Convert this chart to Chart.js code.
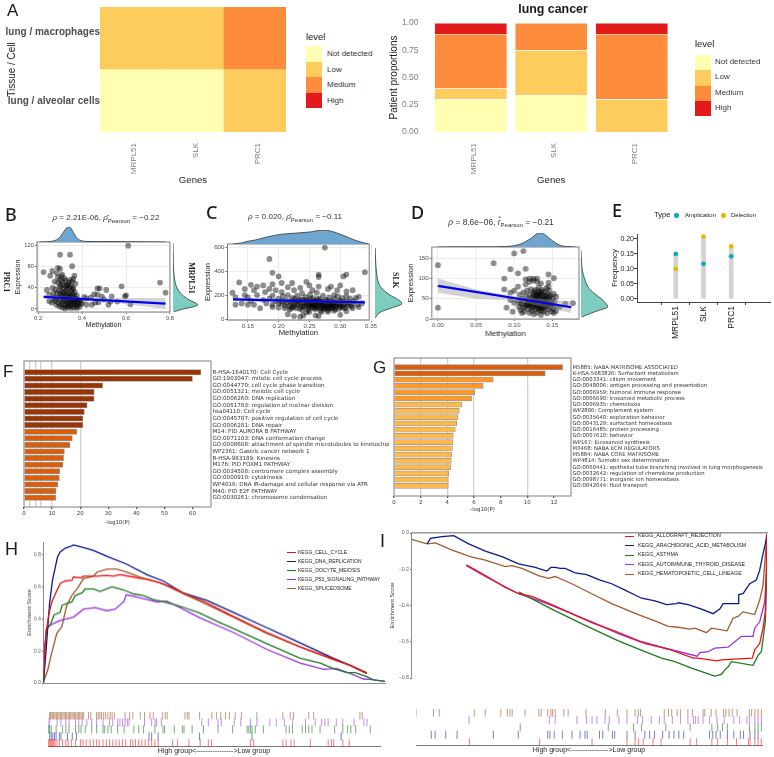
<!DOCTYPE html>
<html>
<head>
<meta charset="utf-8">
<script src="https://cdn.jsdelivr.net/npm/chart.js@4"></script>
<style>
html, body { margin: 0; background: #fff; }
#page { position: relative; width: 774px; height: 757px; overflow: hidden; }
#page canvas { position: absolute; }
.t { position: absolute; white-space: nowrap; line-height: 1; font-family: 'Liberation Sans', sans-serif; }
.sw { position: absolute; }
</style>
</head>
<body>
<div id="page"></div>
<script>
// ---- panel A ----
const genes = ['MRPL51', 'SLK', 'PRC1'];
const levels = ['Not detected', 'Low', 'Medium', 'High'];
const levelColors = ['#FFFFB2', '#FECC5C', '#FD8D3C', '#E31A1C'];
const tissueLabels = ['lung / alveolar cells', 'lung / macrophages'];
const alveolarLevel = [0, 0, 1];
const macrophageLevel = [1, 1, 2];
const notDetected = [0.30, 0.335, 0];
const lowShare = [0.10, 0.415, 0.30];
const mediumShare = [0.50, 0.25, 0.60];
const highShare = [0.10, 0, 0.10];

// ---- panels B, C, D: [methylation, expression] ----
const prc1Points = [[.61,120],[.30,103],[.345,103],[.225,70],[.255,63],[.265,72],[.285,68],[.29,78],[.30,76],[.31,65],[.305,62],[.355,81],[.365,63],[.36,57],[.34,50],[.355,52],[.37,48],[.33,45],[.755,50],[.78,31],[.58,43],[.48,39],[.47,39],[.51,36],[.455,28],[.47,27],[.49,24],[.6,26],[.595,24],[.535,24],[.62,9],[.44,22],[.42,20],[.41,23],[.40,12],[.42,8],[.445,8],[.46,12],[.475,13],[.5,18],[.53,14],[.56,14],[.52,8],[.24,36],[.265,40],[.25,27],[.27,30],[.28,38],[.275,52],[.29,50],[.30,45],
  [.285,30],[.29,22],[.292,12],[.295,35],[.297,5],[.30,28],[.30,17],[.302,42],[.305,8],[.305,24],[.308,33],[.31,14],[.31,3],[.312,46],[.313,27],[.315,20],[.316,38],[.318,9],[.32,31],[.32,16],[.322,1],[.323,24],[.325,43],[.326,6],[.328,35],[.33,13],[.33,27],[.332,19],[.334,3],[.335,38],[.336,9],[.338,23],[.34,30],[.34,15],[.342,5],[.344,41],[.345,26],[.346,11],[.348,19],[.35,34],[.35,2],[.352,7],[.354,23],[.355,14],[.356,29],[.358,37],[.36,10],[.36,18],[.362,3],[.364,25],[.365,13],[.367,32],[.37,7],[.37,20],[.372,15],[.375,2],[.376,26],[.378,11],[.38,6],[.382,18],[.385,12],[.388,4],[.39,16],[.395,9],[.28,18],[.283,8],[.275,15],[.27,22],[.262,12],[.25,15],[.31,52],[.32,58],[.325,54],[.335,46],[.345,55],[.35,44],[.36,40],[.30,55],[.29,60]];
const prc1Fit = [[.225,23],[.78,10]];
const prc1BandHigh = [[.225,27],[.35,23],[.5,21],[.78,21]];
const prc1BandLow = [[.225,19],[.35,18],[.5,14],[.78,0]];
const prc1MethDensity = [[.21,0],[.26,.04],[.29,.2],[.31,.55],[.33,.95],[.34,1],[.35,.9],[.37,.4],[.39,.12],[.42,.04],[.5,.03],[.6,.02],[.78,0]];
const prc1ExprDensity = [[125,0],[100,.01],[80,.02],[60,.05],[50,.09],[40,.16],[30,.3],[20,.55],[15,.75],[10,.95],[8,1],[4,.8],[0,.4],[-5,.05]];

const mrpl51Points = [[.275,595],[.185,500],[.19,385],[.2,355],[.265,370],[.265,350],[.305,355],[.31,370],[.34,390],[.136,305],[.125,220],[.13,120],[.15,120],[.155,150],[.145,250],[.155,285],[.145,200],[.165,270],[.175,280],[.19,290],[.205,300],[.222,300],[.13,180],[.14,130],[.15,180],[.16,240],[.16,120],[.165,200],[.17,90],[.175,160],[.178,225],[.18,130],[.185,250],[.19,195],[.19,100],[.195,240],[.205,225],[.215,265],[.22,90],[.225,240],[.235,260],[.215,40],[.225,25],[.235,20],[.25,60],[.26,30],[.265,25],[.30,35],[.27,60],[.28,60],[.245,310],[.25,280],[.255,240],[.265,270],[.28,250],[.285,270],[.295,240],[.30,280],[.31,230],[.32,240],[.325,175],[.33,185],[.32,90],[.33,100],[.335,130],[.31,190],[.29,200],[.24,30],[.245,55],
  [.185,170],[.19,120],[.195,150],[.2,95],[.2,170],[.205,130],[.207,190],[.21,110],[.212,155],[.215,200],[.218,80],[.22,130],[.222,175],[.225,105],[.227,150],[.23,195],[.232,120],[.234,85],[.236,165],[.238,215],[.24,100],[.242,140],[.244,185],[.246,120],[.248,75],[.25,155],[.251,205],[.253,100],[.255,135],[.256,175],[.258,85],[.26,120],[.261,150],[.262,220],[.264,95],[.265,130],[.266,170],[.268,70],[.27,110],[.27,145],[.272,195],[.274,90],[.275,125],[.276,160],[.278,100],[.28,75],[.28,140],[.282,180],[.284,110],[.285,90],[.286,150],[.288,125],[.29,70],[.29,165],[.292,100],[.294,135],[.296,190],[.298,85],[.30,115],[.30,150],[.303,175],[.305,95],[.307,130],[.31,65],[.31,145],[.313,110],[.316,170],[.32,125],[.225,125],[.235,140],[.245,160],[.255,115],[.262,105],[.268,135],[.275,105],[.283,125],[.292,120],[.24,120],[.25,130],[.258,150],[.27,90],[.287,105],
  [.2,130],[.205,150],[.21,90],[.213,135],[.217,110],[.22,150],[.223,100],[.226,170],[.228,90],[.23,130],[.233,155],[.236,105],[.238,75],[.24,160],[.243,105],[.246,140],[.248,95],[.25,110],[.252,170],[.254,125],[.256,95],[.258,115],[.26,140],[.261,85],[.263,165],[.265,110],[.267,150],[.27,125],[.272,100],[.273,140],[.275,85],[.277,120],[.279,155],[.28,105],[.282,90],[.284,135],[.286,120],[.288,95],[.29,140],[.292,80],[.294,110],[.296,125],[.298,150],[.30,100],[.302,130],[.304,110],[.306,150],[.308,90],[.312,125],[.315,140],[.318,105],[.322,150],[.328,120]];
const mrpl51Fit = [[.126,163],[.34,138]];
const mrpl51BandHigh = [[.126,180],[.23,158],[.34,158]];
const mrpl51BandLow = [[.126,146],[.23,142],[.34,118]];
const mrpl51MethDensity = [[.126,0],[.14,.08],[.15,.2],[.16,.27],[.18,.5],[.20,.68],[.22,.76],[.25,.87],[.265,1],[.28,.93],[.30,.62],[.32,.25],[.34,0]];
const mrpl51ExprDensity = [[590,.01],[500,.02],[400,.05],[300,.13],[250,.28],[200,.55],[170,.8],[140,.98],[127,1],[110,.85],[80,.45],[50,.15],[10,.01]];

const slkPoints = [[0,133],[0,28],[.073,138],[.10,162],[.112,168],[.095,123],[.115,124],[.105,113],[.145,110],[.152,101],[.087,100],[.12,100],[.125,100],[.13,100],[.135,88],[.115,98],[.145,90],[.145,80],[.105,80],[.115,85],[.087,73],[.095,65],[.10,70],[.09,28],[.098,18],[.108,38],[.11,15],[.167,38],[.177,39],[.152,15],[.095,47],[.10,40],[.125,95],[.12,92],[.13,92],[.155,55],[.16,30],
  [.105,45],[.106,30],[.107,60],[.108,22],[.11,50],[.11,38],[.112,66],[.112,28],[.113,18],[.114,44],[.115,56],[.116,35],[.117,70],[.118,25],[.118,48],[.12,15],[.12,60],[.12,38],[.121,30],[.122,52],[.122,74],[.123,20],[.124,42],[.125,64],[.125,33],[.126,12],[.126,50],[.127,24],[.128,72],[.128,40],[.129,58],[.13,30],[.13,47],[.13,16],[.131,66],[.132,36],[.132,78],[.133,52],[.133,22],[.134,43],[.135,10],[.135,62],[.135,32],[.136,72],[.136,50],[.137,26],[.138,40],[.138,58],[.139,18],[.14,68],[.14,34],[.14,48],[.141,28],[.142,56],[.142,76],[.143,14],[.143,42],[.144,62],[.145,35],[.145,24],[.145,50],[.146,70],[.147,44],[.148,30],[.148,58],[.149,18],[.15,38],[.15,50],[.151,26],[.152,62],[.153,42],[.154,32],[.155,20],[.125,56],[.128,48],[.131,26],[.134,58],[.137,36],[.139,46],[.141,40],[.127,38],[.133,68],[.13,55],[.124,28],[.136,20],[.143,32],[.146,56],[.12,44],[.117,40],[.114,30],
  [.122,36],[.126,44],[.129,34],[.132,46],[.135,40],[.138,30],[.141,50],[.144,38],[.134,28],[.128,60],[.14,58],[.132,60],[.126,68],[.137,66],[.118,34],[.147,36]];
const slkFit = [[0,82],[.175,29]];
const slkBandHigh = [[0,100],[.05,73],[.1,56],[.175,43]];
const slkBandLow = [[0,65],[.05,50],[.1,46],[.175,15]];
const slkMethDensity = [[0,0],[.05,.01],[.07,.01],[.09,.04],[.10,.1],[.11,.25],[.12,.55],[.125,.75],[.13,.95],[.135,1],[.14,.9],[.15,.45],[.16,.12],[.17,.03],[.18,0]];
const slkExprDensity = [[170,0],[140,.02],[120,.05],[100,.13],[80,.25],[70,.38],[60,.55],[50,.75],[40,.9],[30,1],[20,.6],[10,.2],[5,.05]];

// ---- panel E ----
const amplification = [0.15, 0.117, 0.142];
const deletion = [0.10, 0.208, 0.175];

// ---- panel F ----
const termsF = ['R-HSA-1640170: Cell Cycle','GO:1903047: mitotic cell cycle process','GO:0044770: cell cycle phase transition','GO:0051321: meiotic cell cycle','GO:0006260: DNA replication','GO:0051783: regulation of nuclear division','hsa04110: Cell cycle','GO:0045787: positive regulation of cell cycle','GO:0006281: DNA repair','M14: PID AURORA B PATHWAY','GO:0071103: DNA conformation change','GO:0008608: attachment of spindle microtubules to kinetochor','WP2361: Gastric cancer network 1','R-HSA-983189: Kinesins','M176: PID FOXM1 PATHWAY','GO:0034508: centromere complex assembly','GO:0000910: cytokinesis','WP4016: DNA IR-damage and cellular response via ATR','M40: PID E2F PATHWAY','GO:0030261: chromosome condensation'];
const valuesF = [63, 60, 28, 25, 25, 22.5, 21.5, 21, 21, 18.8, 17.2, 16.4, 14.4, 14.1, 13.9, 12.7, 12.6, 12, 11.4, 11.3];
const colorsF = ['#993404','#993404','#993404','#993404','#993404','#993404','#993404','#993404','#993404','#D95F0E','#D95F0E','#D95F0E','#D95F0E','#D95F0E','#D95F0E','#D95F0E','#D95F0E','#D95F0E','#D95F0E','#D95F0E'];
const ticksF = [0, 2, 4, 6, 10, 20, 30, 40, 50, 60];
const greyLinesF = [2, 4, 6, 10, 20];

// ---- panel G ----
const termsG = ['M5885: NABA MATRISOME ASSOCIATED','R-HSA-5683826: Surfactant metabolism','GO:0003341: cilium movement','GO:0048006: antigen processing and presentation','GO:0006959: humoral immune response','GO:0006690: icosanoid metabolic process','GO:0006935: chemotaxis','WP2806: Complement system','GO:0035640: exploration behavior','GO:0043129: surfactant homeostasis','GO:0016485: protein processing','GO:0007610: behavior','WP167: Eicosanoid synthesis','M3468: NABA ECM REGULATORS','M5884: NABA CORE MATRISOME','WP4814: Somatic sex determination','GO:0060441: epithelial tube branching involved in lung morphogenesis','GO:0032642: regulation of chemokine production','GO:0098771: inorganic ion homeostasis','GO:0042044: fluid transport'];
const valuesG = [12.65, 11.35, 7.45, 6.7, 6.05, 5.85, 5.1, 4.9, 4.8, 4.7, 4.6, 4.45, 4.42, 4.38, 4.33, 4.3, 4.27, 4.1, 4.08, 4.07];
const colorsG = ['#D95F0E','#D95F0E','#FE9929','#FE9929','#FE9929','#FE9929','#FEB94A','#FEB94A','#FEB94A','#FEB94A','#FEB94A','#FEB94A','#FEB94A','#FEB94A','#FEB94A','#FEB94A','#FEB94A','#FEB94A','#FEB94A','#FEB94A'];
const ticksG = [0, 2, 4, 6, 8, 10, 12];
const greyLinesG = [2, 4, 6, 10];

// ---- panel H: [rank, enrichment score] ----
const hNames = ['KEGG_CELL_CYCLE','KEGG_DNA_REPLICATION','KEGG_OOCYTE_MEIOSIS','KEGG_P53_SIGNALING_PATHWAY','KEGG_SPLICEOSOME'];
const keggColors = ['#F01010','#0A1A8C','#1E7A1E','#9B30E8','#A5582A'];
const hCellCycle = [[0,.025],[6,.275],[15,.42],[25,.505],[40,.575],[50,.62],[65,.635],[85,.64],[90,.66],[115,.655],[120,.665],[160,.665],[190,.67],[210,.665],[230,.675],[270,.66],[310,.645],[350,.625],[380,.6],[420,.56],[490,.5],[570,.415],[670,.315],[770,.225],[870,.15],[920,.11],[970,.06]];
const hDnaRep = [[0,.004],[8,.21],[18,.49],[27,.64],[42,.785],[50,.815],[65,.84],[80,.85],[90,.86],[120,.845],[150,.825],[190,.79],[250,.74],[310,.675],[360,.635],[420,.56],[490,.515],[570,.44],[670,.345],[770,.25],[870,.155],[920,.11],[970,.06]];
const hOocyte = [[0,.004],[8,.335],[20,.36],[32,.425],[50,.44],[56,.485],[85,.505],[95,.545],[115,.56],[125,.585],[150,.585],[170,.57],[205,.6],[240,.58],[270,.555],[300,.545],[330,.52],[360,.505],[390,.49],[415,.475],[470,.435],[520,.385],[570,.34],[670,.245],[770,.155],[830,.125],[870,.09],[910,.065],[935,.065],[970,.04],[990,.02],[1025,.01]];
const hP53 = [[0,.15],[10,.35],[35,.375],[50,.39],[90,.41],[120,.46],[155,.47],[190,.45],[215,.46],[242,.51],[248,.55],[290,.53],[340,.505],[370,.51],[410,.47],[470,.405],[570,.315],[670,.21],[770,.125],[840,.085],[880,.09],[920,.06],[960,.025],[980,.023],[1025,.01]];
const hSplice = [[0,.01],[12,.075],[25,.19],[40,.31],[55,.35],[70,.485],[85,.545],[102,.59],[120,.65],[150,.665],[160,.69],[190,.71],[220,.71],[250,.69],[290,.66],[330,.635],[360,.615],[420,.555],[490,.49],[570,.41],[670,.31],[770,.225],[870,.145],[920,.11],[970,.065]];
const hRugSplice = [5,8,12,15,18,22,26,30,34,38,42,46,50,54,58,62,66,70,74,78,82,86,90,94,98,102,106,110,125,132,150,155,160,165,172,178,185,192,198,205,238,252,262,285,298,315,325,353,362,368,423,430,435,468,506,520,533,548,560,578,597,645,725,748,758,805,820,963,970];
const hRugP53 = [0,5,28,40,55,65,85,95,105,120,135,150,170,190,200,215,222,230,238,245,250,298,320,330,335,350,475,495,525,535,575,595,625,645,685,705,730,755,795,825,845,855,865,890,910,945,975,985];
const hRugOocyte = [2,5,10,25,45,55,65,85,95,102,115,135,150,170,175,185,195,215,235,265,280,295,330,355,360,390,415,420,445,480,525,570,615,620,625,630,640,665,735,745,755,785,795,805,815,840,885,910,925,935,950,995];
const hRugDna = [5,10,15,20,25,35,40,60,75,88,312,320,340,468,630,905];
const hRugCell = [0,3,6,9,12,15,18,22,28,35,45,55,62,72,85,100,108,118,130,140,150,158,170,180,190,200,210,220,230,240,255,262,270,280,290,300,310,320,330,340,385,400,435,470,495,505,625,635,725,735,750,760,810,865,875,882,910,930];

// ---- panel I: [rank, enrichment score] ----
const iNames = ['KEGG_ALLOGRAFT_REJECTION','KEGG_ARACHIDONIC_ACID_METABOLISM','KEGG_ASTHMA','KEGG_AUTOIMMUNE_THYROID_DISEASE','KEGG_HEMATOPOIETIC_CELL_LINEAGE'];
const iAllograft = [[165,-.175],[222,-.235],[282,-.3],[322,-.335],[362,-.35],[422,-.395],[482,-.445],[542,-.495],[602,-.535],[692,-.6],[772,-.64],[847,-.69],[862,-.69],[917,-.705],[932,-.7],[1025,-.69],[1032,-.645],[1047,-.61],[1057,-.525],[1064,-.435],[1069,-.005]];
const iArachidonic = [[47,-.06],[57,-.03],[92,-.02],[127,-.015],[172,-.06],[222,-.1],[272,-.13],[322,-.17],[372,-.19],[407,-.21],[419,-.19],[432,-.19],[447,-.195],[462,-.195],[492,-.22],[527,-.23],[567,-.26],[602,-.28],[642,-.315],[692,-.36],[732,-.375],[767,-.395],[797,-.39],[802,-.385],[832,-.395],[872,-.42],[907,-.445],[927,-.42],[937,-.39],[982,-.39],[984,-.34],[997,-.335],[1017,-.28],[1037,-.26],[1047,-.205],[1057,-.115],[1064,-.06],[1069,-.005]];
const iAsthma = [[322,-.325],[422,-.42],[522,-.51],[622,-.595],[702,-.655],[752,-.69],[792,-.71],[842,-.745],[912,-.79],[932,-.78],[942,-.755],[952,-.74],[962,-.71],[1027,-.73],[1042,-.675],[1052,-.655],[1064,-.49],[1069,-.18]];
const iAutoimmune = [[165,-.18],[222,-.24],[322,-.335],[402,-.385],[482,-.445],[542,-.49],[622,-.555],[702,-.61],[772,-.64],[859,-.68],[867,-.66],[892,-.655],[912,-.635],[952,-.63],[972,-.6],[992,-.57],[1027,-.57],[1032,-.525],[1047,-.49],[1062,-.38],[1069,-.18]];
const iHematopoietic = [[0,-.035],[47,-.06],[72,-.055],[122,-.095],[177,-.13],[222,-.15],[282,-.185],[302,-.18],[332,-.195],[382,-.235],[412,-.25],[432,-.24],[482,-.28],[542,-.335],[602,-.39],[682,-.45],[732,-.485],[772,-.515],[802,-.52],[837,-.53],[852,-.525],[887,-.55],[902,-.525],[949,-.54],[967,-.47],[982,-.46],[997,-.435],[1032,-.45],[1047,-.37],[1057,-.29],[1069,-.005]];
const iRugHema = [0,54,72,180,214,262,282,290,297,337,380,387,407,417,422,430,457,470,525,585,622,652,677,687,694,767,780,790,807,817,840,854,887,892,912,927,950,957,967,977,992,1030,1037,1047,1057,1067];
const iRugAuto = [164,412,430,497,527,544,559,584,597,627,652,684,700,727,752,767,792,817,840,857,864,872,887,907,930,952,982,1000,1022,1030,1047,1057,1067];
const iRugAsthma = [322,594,672,697,772,847,914,932,947,962,1030,1047,1057,1067];
const iRugArach = [47,59,92,127,239,316,407,414,427,452,482,507,522,529,567,577,607,614,652,677,707,722,737,762,782,797,812,827,907,917,927,940,962,982,1002,1012,1032,1047,1057];
const iRugAllo = [165,382,544,652,677,687,702,732,757,847,867,914,932,962,990,1027,1032,1047,1057,1067];

const page = document.getElementById('page');
const sans = 'Liberation Sans';
const deja = 'DejaVu Sans';
const framePlugin = {
  id: 'frame',
  afterDatasetsDraw(chart) {
    const a = chart.chartArea, c = chart.ctx;
    c.save();
    c.strokeStyle = chart.options.frameColor || '#7f7f7f';
    c.lineWidth = 1;
    c.strokeRect(a.left, a.top, a.right - a.left, a.bottom - a.top);
    c.restore();
  }
};

function text(str, x, y, o = {}) {
  const d = document.createElement('div');
  d.className = 't';
  d.innerHTML = str;
  d.style.left = x + 'px';
  d.style.top = y + 'px';
  d.style.fontSize = (o.size || 8) + 'px';
  d.style.color = o.color || '#1a1a1a';
  if (o.weight) d.style.fontWeight = o.weight;
  if (o.font) d.style.fontFamily = o.font;
  d.style.transform = `translate(${o.cx ? '-50%' : '0'}, -50%)` + (o.rot ? ` rotate(${o.rot}deg)` : '');
  page.appendChild(d);
}

function swatch(x, y, w, h, color) {
  const d = document.createElement('div');
  d.className = 'sw';
  d.style.cssText = `left:${x}px;top:${y}px;width:${w}px;height:${h}px;background:${color}`;
  page.appendChild(d);
}

// box = plot rectangle in page pixels plus the margins kept around it for the axes
function addChart(box, config) {
  const m = Object.assign({ ml: 0, mt: 0, mr: 0, mb: 0 }, box);
  const side = { left: m.ml, top: m.mt, right: m.mr, bottom: m.mb };
  const used = {};
  const scales = config.options.scales;
  for (const id in scales) {
    const sc = scales[id];
    if (sc.display === false) continue;
    const pos = sc.position || (id[0] === 'x' ? 'bottom' : 'left');
    used[pos] = true;
    sc.afterFit = s => {
      if (s.isHorizontal()) s.height = side[pos];
      else s.width = side[pos];
    };
  }
  const cv = document.createElement('canvas');
  const w = m.w + m.ml + m.mr, h = m.h + m.mt + m.mb;
  cv.width = w; cv.height = h;
  cv.style.left = (m.l - m.ml) + 'px';
  cv.style.top = (m.t - m.mt) + 'px';
  cv.style.width = w + 'px';
  cv.style.height = h + 'px';
  page.appendChild(cv);
  config.options.responsive = false;
  config.options.animation = false;
  config.options.layout = { padding: {
    left: used.left ? 0 : m.ml, top: used.top ? 0 : m.mt,
    right: used.right ? 0 : m.mr, bottom: used.bottom ? 0 : m.mb } };
  config.options.plugins = { legend: { display: false }, tooltip: { enabled: false } };
  return new Chart(cv.getContext('2d'), config);
}

function fixedTicks(vals) {
  return s => { s.ticks = vals.map(v => ({ value: v })); };
}

function asXY(pairs) {
  return pairs.map(p => ({ x: p[0], y: p[1] }));
}

function axisTitle(str, size, color, pad) {
  return { display: true, text: str, color: color || '#1a1a1a', font: { family: sans, size }, padding: { top: pad || 0, bottom: 0 } };
}

// ---- A left heatmap ----
addChart({ l: 100, t: 7, w: 186, h: 125, ml: 100, mt: 7, mr: 4, mb: 54 }, {
  type: 'bar',
  data: {
    labels: genes,
    datasets: [
      { data: genes.map(() => 1), backgroundColor: alveolarLevel.map(i => levelColors[i]), barPercentage: 1, categoryPercentage: 1 },
      { data: genes.map(() => 1), backgroundColor: macrophageLevel.map(i => levelColors[i]), barPercentage: 1, categoryPercentage: 1 }
    ]
  },
  options: { scales: {
    x: { stacked: true, grid: { display: false, drawTicks: false }, border: { display: false },
      ticks: { minRotation: 90, maxRotation: 90, font: { family: sans, size: 8 }, color: '#7f7f7f', padding: 11, labelOffset: 3 },
      title: axisTitle('Genes', 9.6) },
    y: { stacked: true, min: 0, max: 2, grid: { display: false, drawTicks: false }, border: { display: false },
      afterBuildTicks: fixedTicks([0.5, 1.59]),
      ticks: { padding: 0, font: { family: sans, size: 10, weight: 'bold' }, color: '#4d4d4d',
        callback: v => tissueLabels[v < 1 ? 0 : 1] },
      title: axisTitle('Tissue / Cell', 10, '#1a1a1a', 6) }
  } }
});

// ---- A right stacked bars ----
addChart({ l: 430.5, t: 23, w: 241.5, h: 109, ml: 42.5, mt: 18, mr: 8, mb: 54 }, {
  type: 'bar',
  data: {
    labels: genes,
    datasets: [notDetected, lowShare, mediumShare, highShare].map((vals, i) => ({
      data: vals, backgroundColor: levelColors[i], borderColor: '#fff', borderWidth: 0.6,
      barPercentage: 0.905, categoryPercentage: 1 }))
  },
  options: { scales: {
    x: { stacked: true, grid: { display: false, drawTicks: false }, border: { display: false },
      ticks: { minRotation: 90, maxRotation: 90, font: { family: sans, size: 8 }, color: '#7f7f7f', padding: 11, labelOffset: 3 },
      title: axisTitle('Genes', 9.6) },
    y: { stacked: true, min: 0, max: 1, grid: { display: false, drawTicks: false }, border: { display: false },
      afterBuildTicks: fixedTicks([0, 0.25, 0.5, 0.75, 1]),
      ticks: { padding: 12, font: { family: sans, size: 8.5 }, color: '#7f7f7f', callback: v => v.toFixed(2) },
      title: axisTitle('Patient proportions', 10) }
  } }
});

text('lung cancer', 553, 9, { size: 12.4, weight: 'bold', cx: true });
text('level', 306, 37, { size: 9.4 });
text('level', 695, 44, { size: 9.4 });
levels.forEach((name, i) => {
  swatch(306, 46 + i * 15.5, 16, 15.5, levelColors[i]);
  text(name, 327, 54 + i * 15.5, { size: 8, color: '#333' });
  swatch(695, 55 + i * 15.3, 15.5, 15.3, levelColors[i]);
  text(name, 715, 62 + i * 15.3, { size: 8, color: '#333' });
});

// ---- B, C, D scatter with marginal densities ----
function scatterPanel(box, p) {
  addChart(box, {
    type: 'scatter',
    data: { datasets: [
      { data: asXY(p.fit), showLine: true, borderColor: '#0000F0', borderWidth: 2.2, pointRadius: 0 },
      { data: asXY(p.high), showLine: true, borderWidth: 0, pointRadius: 0, fill: '+1', backgroundColor: 'rgba(150,150,150,0.42)' },
      { data: asXY(p.low), showLine: true, borderWidth: 0, pointRadius: 0 },
      { data: asXY(p.points), pointRadius: 2.9, pointBorderWidth: 0, pointBackgroundColor: 'rgba(0,0,0,0.45)' }
    ] },
    options: { scales: {
      x: { min: p.xmin, max: p.xmax, afterBuildTicks: fixedTicks(p.xticks),
        grid: { color: '#ececec', tickColor: '#666', tickLength: 2 },
        ticks: { padding: 1, font: { family: sans, size: p.tickSize }, color: '#4d4d4d', maxRotation: 0, autoSkip: false, callback: v => v.toFixed(p.xdigits) },
        title: axisTitle('Methylation', p.titleSize) },
      y: { min: p.ymin, max: p.ymax, afterBuildTicks: fixedTicks(p.yticks),
        grid: { color: '#ececec', tickColor: '#666', tickLength: 2 },
        ticks: { padding: 1, font: { family: sans, size: p.tickSize }, color: '#4d4d4d', autoSkip: false, callback: v => String(v) },
        title: axisTitle('Expression', p.titleSize) }
    } },
    plugins: [framePlugin]
  });
  // density along the top
  addChart(p.topBox, {
    type: 'line',
    data: { datasets: [{ data: asXY(p.topDensity), borderColor: '#333', borderWidth: 0.8, backgroundColor: '#6FA6CF', fill: 'origin', pointRadius: 0, tension: 0.35 }] },
    options: { scales: {
      x: { type: 'linear', display: false, min: p.xmin, max: p.xmax },
      y: { type: 'linear', display: false, min: 0, max: 1 }
    } }
  });
  // density down the right side
  addChart(p.sideBox, {
    type: 'line',
    data: { datasets: [{ data: p.sideDensity.map(d => ({ x: d[1], y: d[0] })), indexAxis: 'y', borderColor: '#333', borderWidth: 0.8, backgroundColor: '#7CCDC0', fill: 'origin', pointRadius: 0, tension: 0.35 }] },
    options: { indexAxis: 'y', scales: {
      x: { type: 'linear', display: false, min: 0, max: 1 },
      y: { type: 'linear', display: false, min: p.ymin, max: p.ymax }
    } }
  });
}

scatterPanel({ l: 37, t: 242, w: 133, h: 70, ml: 23, mt: 5, mr: 5, mb: 17 }, {
  points: prc1Points, fit: prc1Fit, high: prc1BandHigh, low: prc1BandLow,
  xmin: 0.195, xmax: 0.8, ymin: -5.7, ymax: 127, xticks: [0.2, 0.4, 0.6, 0.8], yticks: [0, 40, 80, 120], xdigits: 1,
  tickSize: 5.8, titleSize: 7,
  topDensity: prc1MethDensity, topBox: { l: 37, t: 227, w: 133, h: 15 },
  sideDensity: prc1ExprDensity, sideBox: { l: 173, t: 242, w: 25, h: 70 }
});
scatterPanel({ l: 227, t: 244, w: 146, h: 76, ml: 24.5, mt: 5, mr: 5, mb: 18 }, {
  points: mrpl51Points, fit: mrpl51Fit, high: mrpl51BandHigh, low: mrpl51BandLow,
  xmin: 0.117, xmax: 0.347, ymin: -8, ymax: 625, xticks: [0.15, 0.2, 0.25, 0.3, 0.35], yticks: [0, 200, 400, 600], xdigits: 2,
  tickSize: 6.2, titleSize: 7.7,
  topDensity: mrpl51MethDensity, topBox: { l: 227, t: 230, w: 146, h: 14 },
  sideDensity: mrpl51ExprDensity, sideBox: { l: 375, t: 244, w: 27, h: 76 }
});
scatterPanel({ l: 432, t: 247, w: 147, h: 72, ml: 25.7, mt: 5, mr: 5, mb: 20 }, {
  points: slkPoints, fit: slkFit, high: slkBandHigh, low: slkBandLow,
  xmin: -0.008, xmax: 0.185, ymin: 0, ymax: 178, xticks: [0, 0.05, 0.1, 0.15], yticks: [0, 50, 100, 150], xdigits: 2,
  tickSize: 6.2, titleSize: 7.9,
  topDensity: slkMethDensity, topBox: { l: 432, t: 233, w: 147, h: 14 },
  sideDensity: slkExprDensity, sideBox: { l: 581, t: 247, w: 27, h: 72 }
});

text('PRC1', 6, 282, { size: 8, weight: 'bold', font: 'Liberation Serif', cx: true, rot: 90 });
text('MRPL51', 191, 278, { size: 8, weight: 'bold', font: 'Liberation Serif', cx: true, rot: 90 });
text('SLK', 395, 280, { size: 8, weight: 'bold', font: 'Liberation Serif', cx: true, rot: 90 });
text('<i>ρ</i> = 2.21E-06, <i>ρ̂</i><sub style="font-size:6px">Pearson</sub> = −0.22', 106, 219, { size: 8, cx: true, color: '#333' });
text('<i>ρ</i> = 0.020, <i>ρ̂</i><sub style="font-size:6px">Pearson</sub> = −0.11', 295, 218, { size: 8, cx: true, color: '#333' });
text('<i>ρ</i> = 8.6e−06, <i>r̂</i><sub style="font-size:6px">Pearson</sub> = −0.21', 501, 223, { size: 8.4, cx: true, color: '#333' });

// ---- E lollipops ----
addChart({ l: 637, t: 234, w: 135, h: 68, ml: 27, mt: 5, mr: 2, mb: 40 }, {
  type: 'bar',
  data: { datasets: [
    { type: 'scatter', data: amplification.map((v, i) => ({ x: i, y: v })), pointRadius: 2.4, pointBorderWidth: 0, pointBackgroundColor: '#00AFBB' },
    { type: 'scatter', data: deletion.map((v, i) => ({ x: i, y: v })), pointRadius: 2.4, pointBorderWidth: 0, pointBackgroundColor: '#E7B800' },
    { type: 'bar', data: amplification.map((v, i) => ({ x: i, y: Math.max(v, deletion[i]) })), backgroundColor: '#D3D3D3', barThickness: 4 }
  ] },
  options: { scales: {
    x: { type: 'linear', min: -0.6, max: 2.6, afterBuildTicks: fixedTicks([0, 1, 2]),
      grid: { drawOnChartArea: false, color: '#444', tickLength: 3 }, border: { color: '#444' },
      ticks: { minRotation: 90, maxRotation: 90, padding: 1, font: { family: sans, size: 8.5 }, color: '#1a1a1a', callback: v => genes[v] } },
    y: { min: -0.0107, max: 0.2167, afterBuildTicks: fixedTicks([0, 0.05, 0.1, 0.15, 0.2]),
      grid: { drawOnChartArea: false, color: '#444', tickLength: 3 }, border: { color: '#444' },
      ticks: { padding: 0, font: { family: sans, size: 7 }, color: '#1a1a1a', callback: v => v.toFixed(2) },
      title: axisTitle('Frequency', 8) }
  } }
});
text('Type', 654, 215, { size: 7.6 });
swatch(674, 213, 4.5, 4.5, '#00AFBB');
page.lastChild.style.borderRadius = '50%';
text('Amplication', 685, 215, { size: 6 });
swatch(721, 213, 4.5, 4.5, '#E7B800');
page.lastChild.style.borderRadius = '50%';
text('Delection', 731, 215, { size: 6 });

// ---- F, G horizontal bars ----
function barPanel(box, p) {
  addChart(box, {
    type: 'bar',
    data: { datasets: [{
      data: p.values.map((v, i) => ({ x: v, y: i })), backgroundColor: p.colors,
      borderColor: '#999', borderWidth: 0.8, barThickness: p.thick }] },
    options: { indexAxis: 'y', scales: {
      x: { type: 'linear', min: 0, max: p.xmax, afterBuildTicks: fixedTicks(p.ticks),
        grid: { lineWidth: 1.3, color: c => p.grey.includes(c.tick.value) ? '#d0d0d0' : 'rgba(0,0,0,0)',
          tickColor: c => p.labeled(c.tick.value) ? '#555' : 'rgba(0,0,0,0)', tickLength: 2 },
        border: { display: false },
        ticks: { padding: 1, autoSkip: false, maxRotation: 0, font: { family: deja, size: 5.4 }, color: '#333',
          callback: v => p.labeled(v) ? String(v) : '' },
        title: Object.assign(axisTitle('-log10(P)', 5.4, '#333'), { font: { family: deja, size: 5.4 } }) },
      y: { type: 'linear', position: 'right', reverse: true, min: p.ymin, max: p.ymax,
        afterBuildTicks: fixedTicks(p.terms.map((t, i) => i)),
        grid: { display: false, drawTicks: false }, border: { display: false },
        ticks: { padding: 1.5, autoSkip: false, font: { family: deja, size: p.termSize }, color: '#333', callback: v => p.terms[v] } }
    } },
    plugins: [framePlugin]
  });
}

barPanel({ l: 24, t: 361, w: 187, h: 146, ml: 8, mt: 5, mr: 178, mb: 19 }, {
  values: valuesF, colors: colorsF, terms: termsF, ticks: ticksF, grey: greyLinesF, labeled: v => v % 10 === 0,
  xmax: 66.6, ymin: -1.15, ymax: 19.86, thick: 5.4, termSize: 5.6
});
barPanel({ l: 394, t: 358, w: 177, h: 138, ml: 6, mt: 5, mr: 200, mb: 17 }, {
  values: valuesG, colors: colorsG, terms: termsG, ticks: ticksG, grey: greyLinesG, labeled: () => true,
  xmax: 13.28, ymin: -0.91, ymax: 20.06, thick: 5.2, termSize: 5.32
});

// ---- H, I running enrichment score ----
function esLines(series) {
  return series.map((s, i) => ({ data: asXY(s), showLine: true, borderColor: keggColors[i], borderWidth: 1.3, pointRadius: 0 }));
}

addChart({ l: 43, t: 542, w: 342, h: 140.5, ml: 17.5, mt: 5, mr: 3, mb: 5 }, {
  type: 'scatter',
  data: { datasets: esLines([hCellCycle, hDnaRep, hOocyte, hP53, hSplice]) },
  options: { scales: {
    x: { min: 0, max: 1025, grid: { display: false, drawTicks: false }, border: { color: '#8a8a8a', width: 1 }, ticks: { display: false } },
    y: { min: 0, max: 0.878, afterBuildTicks: fixedTicks([0, 0.2, 0.4, 0.6, 0.8]),
      grid: { drawOnChartArea: false, color: '#666', tickLength: 1.5 }, border: { color: '#8a8a8a', width: 1 },
      ticks: { padding: 1, font: { family: sans, size: 5.3 }, color: '#666', callback: v => v.toFixed(1) },
      title: axisTitle('Enrichment Score', 5.8, '#333') }
  } }
});

addChart({ l: 411, t: 533, w: 356, h: 145, ml: 22.5, mt: 5, mr: 4, mb: 5 }, {
  type: 'scatter',
  data: { datasets: esLines([iAllograft, iArachidonic, iAsthma, iAutoimmune, iHematopoietic]) },
  options: { scales: {
    x: { position: 'top', min: 0, max: 1069, grid: { display: false, drawTicks: false }, border: { color: '#999', width: 1.4 }, ticks: { display: false } },
    y: { min: -0.8, max: 0, afterBuildTicks: fixedTicks([-0.8, -0.6, -0.4, -0.2, 0]),
      grid: { drawOnChartArea: false, color: '#666', tickLength: 1.5 }, border: { color: '#8a8a8a', width: 1 },
      ticks: { padding: 1, font: { family: sans, size: 5.3 }, color: '#666', callback: v => v.toFixed(1).replace('-', '−') },
      title: axisTitle('Enrichment Score', 5.8, '#333') }
  } }
});

hNames.forEach((n, i) => {
  swatch(287, 551.6 + i * 9, 8.5, 1.2, keggColors[i]);
  text(n, 298, 552 + i * 9, { size: 5, color: '#222' });
});
iNames.forEach((n, i) => {
  swatch(625, 535.6 + i * 9.5, 8.5, 1.2, keggColors[i]);
  text(n, 638, 536 + i * 9.5, { size: 5.3, color: '#222' });
});

// gene hit rugs, row 4 at the top
function rugPanel(box, maxRank, rows, colors) {
  addChart(box, {
    type: 'scatter',
    data: { datasets: rows.map((r, i) => ({
      data: r.map(v => ({ x: v, y: 4 - i })), pointStyle: 'line', rotation: 90, pointRadius: 4,
      pointBorderWidth: 1, pointBorderColor: colors[i] })) },
    options: { scales: {
      x: { min: 0, max: maxRank, grid: { display: false, drawTicks: false }, border: { color: '#777', width: 1 }, ticks: { display: false },
        title: axisTitle('High group<---------------->Low group', 7, '#222') },
      y: { display: false, min: -0.5, max: 4.5 }
    } }
  });
}

const rugColors = ['rgba(165,88,42,0.6)', 'rgba(155,48,232,0.55)', 'rgba(30,122,30,0.6)', 'rgba(10,26,140,0.55)', 'rgba(240,16,16,0.55)'];
rugPanel({ l: 43, t: 707, w: 342, h: 40, mb: 8.2 }, 1025, [hRugSplice, hRugP53, hRugOocyte, hRugDna, hRugCell], rugColors);
rugPanel({ l: 411, t: 704, w: 356, h: 42, mb: 8.2 }, 1069, [iRugHema, iRugAuto, iRugAsthma, iRugArach, iRugAllo], rugColors);

// panel letters
text('A', 7, 10, { size: 17 });
text('B', 5, 214, { size: 18, font: 'Noto Sans', weight: 500 });
text('C', 206, 212, { size: 18, font: 'Noto Sans', weight: 500 });
text('D', 411, 212, { size: 18, font: 'Noto Sans', weight: 500 });
text('E', 612, 210, { size: 18, font: 'Noto Sans', weight: 500 });
text('F', 3, 371, { size: 17 });
text('G', 373, 367, { size: 17 });
text('H', 5, 549, { size: 18 });
text('I', 380, 541, { size: 18 });
</script>
</body>
</html>
